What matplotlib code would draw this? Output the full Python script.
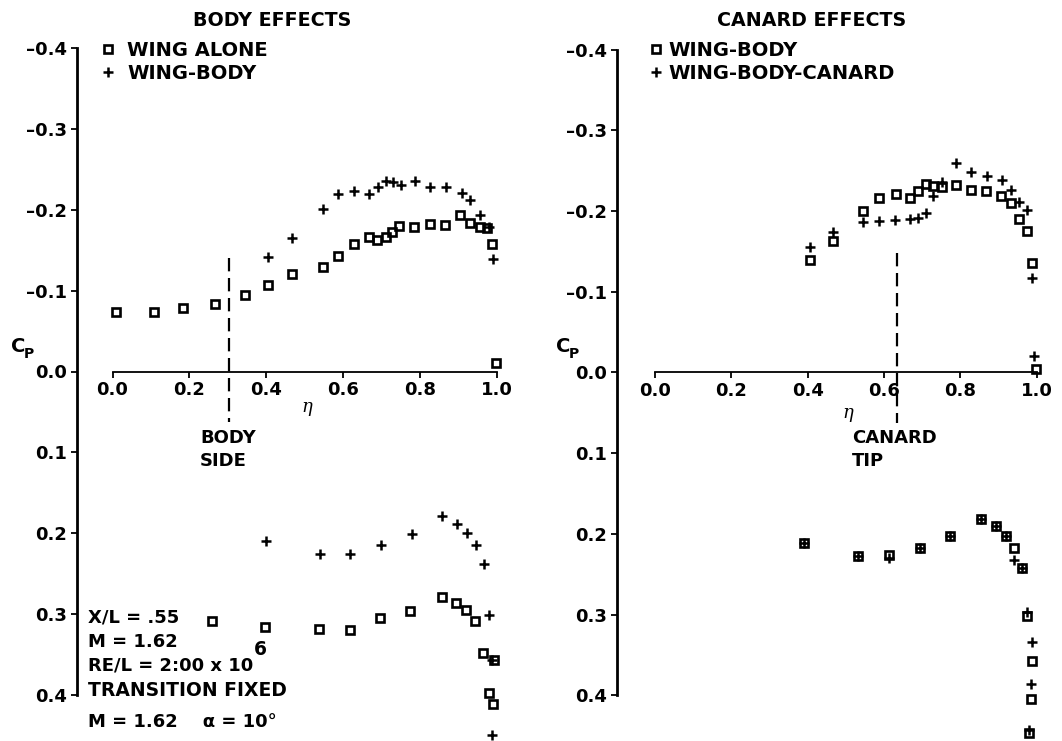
import matplotlib
matplotlib.use("Agg")
import matplotlib.pyplot as plt
import numpy as np

plt.rcParams['font.family'] = ['DejaVu Sans']
plt.rcParams['font.weight'] = 'bold'

# ---- data (eta, Cp) ----
# body effects, upper surface
wa_up_eta = [0.008, 0.108, 0.184, 0.268, 0.346, 0.405, 0.468, 0.547, 0.588, 0.629, 0.667, 0.689,
             0.711, 0.728, 0.747, 0.786, 0.828, 0.865, 0.906, 0.932, 0.956, 0.976, 0.989, 0.999]
wa_up_cp = [-0.073, -0.074, -0.079, -0.084, -0.095, -0.107, -0.120, -0.129, -0.143, -0.158, -0.166, -0.162,
            -0.166, -0.173, -0.180, -0.178, -0.182, -0.181, -0.193, -0.184, -0.179, -0.177, -0.158, -0.010]
wb_up_eta = [0.405, 0.468, 0.547, 0.588, 0.629, 0.669, 0.692, 0.711, 0.731, 0.750, 0.789, 0.828,
             0.869, 0.909, 0.932, 0.958, 0.980, 0.991]
wb_up_cp = [-0.141, -0.165, -0.201, -0.219, -0.223, -0.219, -0.228, -0.236, -0.234, -0.231, -0.235, -0.228,
            -0.228, -0.221, -0.212, -0.193, -0.178, -0.139]
# body effects, lower surface
wa_lo_eta = [0.258, 0.398, 0.539, 0.618, 0.696, 0.776, 0.857, 0.895, 0.921, 0.943, 0.964, 0.993, 0.980, 0.991]
wa_lo_cp = [0.309, 0.316, 0.318, 0.319, 0.305, 0.296, 0.279, 0.286, 0.295, 0.309, 0.348, 0.356, 0.397, 0.411]
wb_lo_eta = [0.400, 0.540, 0.618, 0.700, 0.779, 0.858, 0.897, 0.922, 0.947, 0.967, 0.980, 0.989, 0.989]
wb_lo_cp = [0.210, 0.226, 0.225, 0.215, 0.201, 0.179, 0.188, 0.200, 0.215, 0.238, 0.301, 0.357, 0.449]

# canard effects, upper surface
cwb_up_eta = [0.405, 0.466, 0.546, 0.588, 0.631, 0.668, 0.689, 0.710, 0.730, 0.752, 0.788, 0.828,
              0.868, 0.906, 0.932, 0.955, 0.976, 0.989, 0.998]
cwb_up_cp = [-0.140, -0.163, -0.200, -0.216, -0.221, -0.216, -0.225, -0.233, -0.231, -0.230, -0.232, -0.226,
             -0.225, -0.219, -0.210, -0.190, -0.175, -0.136, -0.004]
wbc_up_eta = [0.405, 0.466, 0.546, 0.588, 0.629, 0.668, 0.689, 0.710, 0.730, 0.752, 0.788, 0.828,
              0.869, 0.909, 0.932, 0.955, 0.976, 0.989, 0.993]
wbc_up_cp = [-0.155, -0.174, -0.186, -0.188, -0.189, -0.190, -0.191, -0.198, -0.219, -0.236, -0.259, -0.248,
             -0.244, -0.238, -0.226, -0.211, -0.201, -0.117, -0.020]
# canard effects, lower surface
cwb_lo_eta = [0.391, 0.533, 0.614, 0.695, 0.773, 0.854, 0.893, 0.919, 0.942, 0.961, 0.976, 0.989, 0.986, 0.980]
cwb_lo_cp = [0.211, 0.227, 0.226, 0.217, 0.202, 0.181, 0.190, 0.202, 0.218, 0.242, 0.302, 0.358, 0.405, 0.447]
wbc_lo_eta = [0.391, 0.533, 0.614, 0.695, 0.773, 0.854, 0.893, 0.919, 0.942, 0.961, 0.976, 0.989, 0.986, 0.980]
wbc_lo_cp = [0.211, 0.227, 0.230, 0.217, 0.202, 0.181, 0.190, 0.202, 0.232, 0.242, 0.297, 0.334, 0.386, 0.443]

x_ticks = [0.0, 0.2, 0.4, 0.6, 0.8, 1.0]
y_ticks = [-0.4, -0.3, -0.2, -0.1, 0.0, 0.1, 0.2, 0.3, 0.4]

W, H = 1062, 741
fig = plt.figure(figsize=(W / 100, H / 100), dpi=100)


def px_axes(eta0_px, eta_scale, y0_px, cp_scale, xlim, ylim):
    # place an axes so that data coords land on given pixel positions
    left = eta0_px + xlim[0] * eta_scale
    right = eta0_px + xlim[1] * eta_scale
    top = y0_px + ylim[1] * cp_scale
    bottom = y0_px + ylim[0] * cp_scale
    ax = fig.add_axes([left / W, 1 - bottom / H, (right - left) / W, (bottom - top) / H])
    ax.set_xlim(*xlim)
    ax.set_ylim(*ylim)
    return ax


def style(ax):
    ax.spines['top'].set_visible(False)
    ax.spines['right'].set_visible(False)
    ax.spines['left'].set_bounds(-0.4, 0.4)
    ax.spines['left'].set_linewidth(2)
    ax.spines['bottom'].set_position(('data', 0))
    ax.spines['bottom'].set_bounds(0, 1)
    ax.spines['bottom'].set_linewidth(1.3)
    ax.set_xticks(x_ticks)
    ax.set_xticklabels([f"{t:.1f}" for t in x_ticks])
    ax.set_yticks(y_ticks)
    ax.set_yticklabels([f"{t:.1f}".replace('-', '\u2013') if t != 0 else "0.0" for t in y_ticks])
    ax.tick_params(axis='both', direction='out', length=4, width=1.3, labelsize=13, pad=3)
    ax.patch.set_alpha(0)


sq = dict(marker='s', ms=5.5, mfc='none', mec='black', mew=1.9, ls='none')
pl = dict(marker='+', ms=6.5, mec='black', mew=1.8, ls='none')
leg_kw = dict(loc='upper left', frameon=False, fontsize=14, handlelength=0.5,
              labelspacing=0.2, borderaxespad=0, borderpad=0, bbox_transform=fig.transFigure)

# ---- left panel: body effects ----
axl = px_axes(112.5, 384, 371.5, 809, (-0.0924, 1.04), (0.455, -0.42))
style(axl)
axl.plot(wa_up_eta, wa_up_cp, label='WING ALONE', **sq)
axl.plot(wb_up_eta, wb_up_cp, label='WING-BODY', **pl)
axl.plot(wa_lo_eta, wa_lo_cp, **sq)
axl.plot(wb_lo_eta, wb_lo_cp, **pl)
axl.plot([0.303, 0.303], [-0.140, 0.062], color='black', lw=1.6, dashes=(6, 3))
axl.legend(bbox_to_anchor=(103 / W, 1 - 41 / H), handletextpad=0.75, **leg_kw)

# ---- right panel: canard effects ----
axr = px_axes(655, 381.5, 372.5, 807, (-0.0996, 1.04), (0.455, -0.42))
style(axr)
axr.plot(cwb_up_eta, cwb_up_cp, label='WING-BODY', **sq)
axr.plot(wbc_up_eta, wbc_up_cp, label='WING-BODY-CANARD', **pl)
axr.plot(cwb_lo_eta, cwb_lo_cp, **sq)
axr.plot(wbc_lo_eta, wbc_lo_cp, **pl)
axr.plot([0.635, 0.635], [-0.148, 0.063], color='black', lw=1.6, dashes=(6, 3))
axr.legend(bbox_to_anchor=(651 / W, 1 - 41 / H), handletextpad=0.4, **leg_kw)


def ftext(x, y, s, **kw):
    return fig.text(x / W, 1 - y / H, s, **kw)


ftext(272, 20, 'BODY EFFECTS', ha='center', va='center', fontsize=13.7)
ftext(812, 20, 'CANARD EFFECTS', ha='center', va='center', fontsize=13.7)

for cx in (11, 556):
    ftext(cx, 347, 'C', ha='left', va='center', fontsize=14)
    ftext(cx + 13, 354, 'P', ha='left', va='center', fontsize=10)

ftext(307, 407, '\u03b7', ha='center', va='center', fontsize=13, style='italic',
      family='DejaVu Serif', weight='normal')
ftext(848, 413, '\u03b7', ha='center', va='center', fontsize=13, style='italic',
      family='DejaVu Serif', weight='normal')

ftext(200, 438, 'BODY', ha='left', va='center', fontsize=13)
ftext(200, 461, 'SIDE', ha='left', va='center', fontsize=13)
ftext(852, 438, 'CANARD', ha='left', va='center', fontsize=13)
ftext(852, 461, 'TIP', ha='left', va='center', fontsize=13)

ftext(88, 618, 'X/L = .55', ha='left', va='center', fontsize=13)
ftext(88, 642, 'M = 1.62', ha='left', va='center', fontsize=13)
re_txt = ftext(88, 665, 'RE/L = 2:00 x 10', ha='left', va='center', fontsize=13)
ftext(88, 690, 'TRANSITION FIXED', ha='left', va='center', fontsize=13.5)
ftext(88, 722, 'M = 1.62    \u03b1 = 10\u00b0', ha='left', va='center', fontsize=13)

# superscript 6 placed right after the RE/L text
fig.canvas.draw()
bb = re_txt.get_window_extent()
fig.text((bb.x1 + 1) / W, (bb.y1 - 3) / H, '6', ha='left', va='bottom', fontsize=13.5)

fig.savefig('out.png', dpi=100)
